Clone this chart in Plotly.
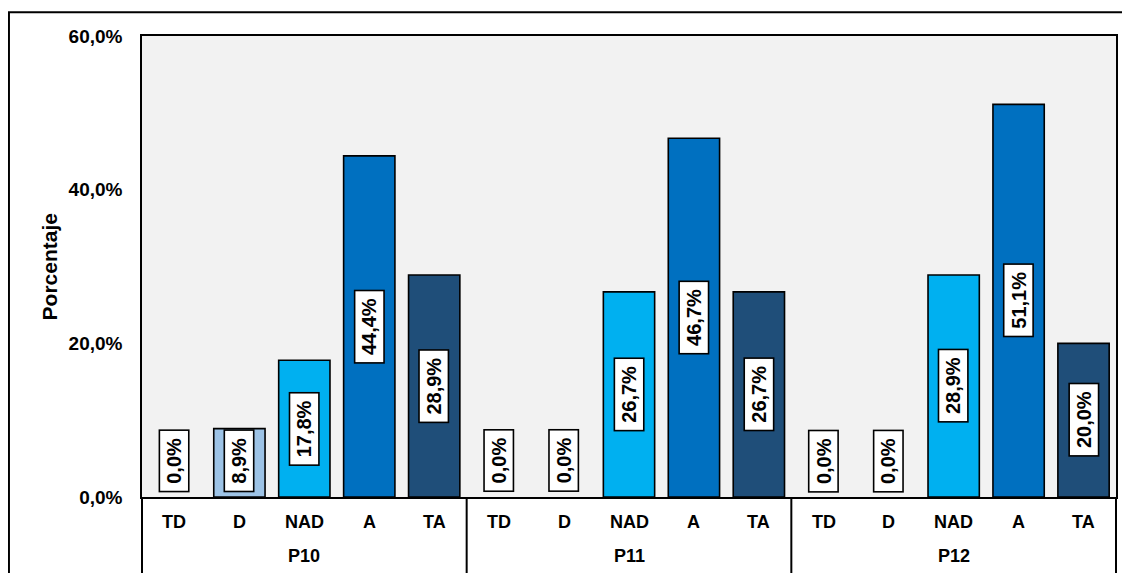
import plotly.graph_objects as go

groups = ["P10", "P11", "P12"]
categories = ["TD", "D", "NAD", "A", "TA"]
values_p10 = [0.0, 8.9, 17.8, 44.4, 28.9]
values_p11 = [0.0, 0.0, 26.7, 46.7, 26.7]
values_p12 = [0.0, 0.0, 28.9, 51.1, 20.0]
cat_colors = ["#5B9BD5", "#9DC3E6", "#00B0F0", "#0070C0", "#1F4E79"]
y_ticks = [0, 20, 40, 60]
y_ticktext = ["0,0%", "20,0%", "40,0%", "60,0%"]

FONT = "Liberation Sans"

all_values = [values_p10, values_p11, values_p12]
xg, xc, yv, cols = [], [], [], []
for g, vals in zip(groups, all_values):
    for c, v, col in zip(categories, vals, cat_colors):
        xg.append(g)
        xc.append(c)
        yv.append(v)
        cols.append(col)
n = len(yv)
ncat = len(categories)

def fmt(v):
    return f"{v:.1f}".replace(".", ",") + "%"

fig = go.Figure()
fig.add_trace(go.Bar(
    x=[xg, xc], y=yv,
    marker=dict(color=cols, line=dict(color="#000000",
                                      width=[0 if v == 0 else 1.6 for v in yv])),
    hoverinfo="skip", showlegend=False,
))
# invisible trace on overlay axis used to anchor annotations
fig.add_trace(go.Scatter(x=list(range(n)), y=yv, xaxis="x2", mode="markers",
                         marker=dict(opacity=0), hoverinfo="skip", showlegend=False))

annotations = []
TS = "\u2009"
for i, v in enumerate(yv):
    annotations.append(dict(
        x=i, y=max(v / 2, 4.7), xref="x2", yref="y",
        text=f"<b>{TS}{fmt(v)}{TS}</b>", textangle=-90, showarrow=False,
        font=dict(family=FONT, size=20, color="#000000"),
        bgcolor="#FFFFFF", bordercolor="#000000", borderwidth=1.6, borderpad=3,
        xanchor="center", yanchor="middle",
    ))
# category labels
for i, c in enumerate(xc):
    annotations.append(dict(
        x=i, y=0, xref="x2", yref="paper", yshift=-25, text=f"<b>{c}</b>",
        showarrow=False, font=dict(family=FONT, size=18, color="#000000"),
        xanchor="center", yanchor="middle",
    ))
# group labels
for k, g in enumerate(groups):
    annotations.append(dict(
        x=k * ncat + (ncat - 1) / 2, y=0, xref="x2", yref="paper", yshift=-59,
        text=f"<b>{g}</b>", showarrow=False,
        font=dict(family=FONT, size=18, color="#000000"),
        xanchor="center", yanchor="middle",
    ))
annotations.append(dict(
    x=-0.0945, y=0.5, xref="paper", yref="paper", text="<b>Porcentaje</b>",
    textangle=-90, showarrow=False, font=dict(family=FONT, size=21, color="#000000"),
    xanchor="center", yanchor="middle",
))

shapes = []
for k in range(len(groups) + 1):
    shapes.append(dict(type="line", xref="paper", yref="paper",
                       x0=k * ncat / n, x1=k * ncat / n, y0=0, y1=-0.3,
                       line=dict(color="#000000", width=2)))
shapes.append(dict(type="rect", xref="paper", yref="paper",
                   x0=-0.1366, x1=1.2, y0=-0.5, y1=1.0516,
                   line=dict(color="#000000", width=2), fillcolor="rgba(0,0,0,0)",
                   layer="above"))

fig.update_layout(
    width=1130, height=573,
    margin=dict(l=134, r=22, t=28, b=84),
    paper_bgcolor="#FFFFFF", plot_bgcolor="#F2F2F2",
    bargap=0.21,
    font=dict(family=FONT, color="#000000"),
    annotations=annotations,
    shapes=shapes,
    xaxis=dict(
        type="multicategory", showline=True, linecolor="#000000", linewidth=1.5,
        mirror=True, ticks="", showgrid=False, zeroline=False,
        showticklabels=False, showdividers=False,
    ),
    xaxis2=dict(overlaying="x", range=[-0.5, n - 0.5], visible=False),
    yaxis=dict(
        range=[0, 60], tickvals=y_ticks, ticktext=y_ticktext,
        showline=True, linecolor="#000000", linewidth=1.5, mirror=True,
        showgrid=False, zeroline=False, ticks="", ticklabelstandoff=14,
        tickfont=dict(family=FONT, size=19, color="#000000", weight="bold"),
    ),
)

fig.write_html("out.html")
